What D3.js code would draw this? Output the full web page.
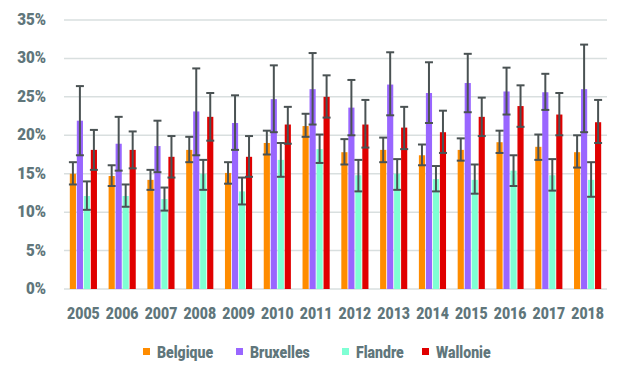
<!DOCTYPE html>
<html><head><meta charset="utf-8">
<script src="https://cdn.jsdelivr.net/npm/d3@7"></script>
<style>body{margin:0;background:#fff;}svg text{font-family:Roboto,"Liberation Sans",sans-serif;font-weight:900;fill:#60767b;}</style>
</head><body><svg id="c" width="620" height="378"></svg>
<script>
const years = ["2005","2006","2007","2008","2009","2010","2011","2012","2013","2014","2015","2016","2017","2018"];
const series = ["Belgique","Bruxelles","Flandre","Wallonie"];
const colors = ["#FF8C00","#9966FF","#7FFFD4","#E00000"];
const yTicks = [0,5,10,15,20,25,30,35];
const belgique = [15.0,14.7,14.2,18.1,15.1,19.0,21.2,17.8,18.1,17.4,18.1,19.1,18.5,17.8];
const belgiqueHi = [16.5,16.1,15.5,19.8,16.5,20.6,22.8,19.5,19.7,18.8,19.6,20.6,20.1,20.0];
const belgiqueLo = [13.6,13.4,12.9,16.5,13.7,17.5,19.8,16.2,16.5,16.1,16.7,17.7,16.8,15.8];
const bruxelles = [21.9,18.9,18.6,23.1,21.6,24.7,26.0,23.6,26.6,25.5,26.8,25.7,25.6,26.0];
const bruxellesHi = [26.4,22.4,21.9,28.7,25.2,29.1,30.7,27.2,30.8,29.5,30.6,28.8,28.0,31.8];
const bruxellesLo = [17.4,15.4,15.2,17.4,18.1,20.4,21.4,20.0,22.6,21.6,23.0,22.7,23.3,20.4];
const flandre = [12.1,12.1,11.7,15.0,12.7,16.8,18.2,14.8,15.0,14.3,14.2,15.4,14.8,14.2];
const flandreHi = [14.0,13.6,13.2,16.8,14.5,19.0,20.1,16.8,16.9,16.0,16.2,17.4,16.9,16.5];
const flandreLo = [10.3,10.7,10.2,12.9,11.0,14.6,16.4,12.7,12.9,12.7,12.4,13.4,12.8,12.0];
const wallonie = [18.1,18.1,17.2,22.4,17.2,21.4,25.0,21.4,21.0,20.4,22.4,23.8,22.7,21.7];
const wallonieHi = [20.7,20.5,19.9,25.5,19.9,23.7,27.8,24.6,23.7,23.2,24.9,26.5,25.5,24.6];
const wallonieLo = [15.5,15.7,14.5,19.3,14.6,18.9,22.3,18.4,18.2,17.7,19.9,21.1,20.0,19.0];

const vals = [belgique,bruxelles,flandre,wallonie];
const his = [belgiqueHi,bruxellesHi,flandreHi,wallonieHi];
const los = [belgiqueLo,bruxellesLo,flandreLo,wallonieLo];

const svg = d3.select("#c");
const x0 = d3.scaleBand().domain(years).range([64,607]).paddingInner(0.3).paddingOuter(0.15);
const x1 = d3.scaleBand().domain(series).range([0,x0.bandwidth()]).paddingInner(0.12);
const y = d3.scaleLinear().domain([0,35]).range([289,20]);
const SX = 0.88;

svg.append("g").selectAll("line").data(yTicks).join("line")
  .attr("x1",64).attr("x2",607).attr("y1",d=>y(d)).attr("y2",d=>y(d))
  .attr("stroke","#d9dfdf").attr("stroke-width",1.5);

svg.append("g").selectAll("text").data(yTicks).join("text")
  .attr("transform",d=>`translate(46,${y(d)-1}) scale(0.92,1)`).attr("dy","0.36em").attr("text-anchor","end")
  .attr("font-size",16.5).text(d=>d+"%");

svg.append("g").selectAll("text").data(years).join("text")
  .attr("transform",d=>`translate(${x0(d)+x0.bandwidth()/2},313) scale(${SX},1)`).attr("dy","0.36em").attr("text-anchor","middle")
  .attr("font-size",16).text(d=>d);

const data = [];
years.forEach((yr,i)=>series.forEach((s,j)=>data.push({yr,s,j,v:vals[j][i],hi:his[j][i],lo:los[j][i]})));

svg.append("g").selectAll("rect").data(data).join("rect")
  .attr("x",d=>x0(d.yr)+x1(d.s)).attr("width",x1.bandwidth())
  .attr("y",d=>y(d.v)).attr("height",d=>y(0)-y(d.v))
  .attr("fill",d=>colors[d.j]);

const eb = svg.append("g").attr("stroke","#4a5253").attr("stroke-width",2);
data.forEach(d=>{
  const cx = x0(d.yr)+x1(d.s)+x1.bandwidth()/2;
  eb.append("line").attr("x1",cx).attr("x2",cx).attr("y1",y(d.hi)).attr("y2",y(d.lo));
  eb.append("line").attr("x1",cx-4).attr("x2",cx+4).attr("y1",y(d.hi)).attr("y2",y(d.hi));
  eb.append("line").attr("x1",cx-4).attr("x2",cx+4).attr("y1",y(d.lo)).attr("y2",y(d.lo));
});

const legX = [143,236,342,422];
const leg = svg.append("g");
series.forEach((s,j)=>{
  leg.append("rect").attr("x",legX[j]).attr("y",348).attr("width",7).attr("height",7).attr("fill",colors[j]);
  leg.append("text").attr("transform",`translate(${legX[j]+14},352) scale(${SX},1)`).attr("dy","0.36em").attr("font-size",16).text(s);
});
</script></body></html>
